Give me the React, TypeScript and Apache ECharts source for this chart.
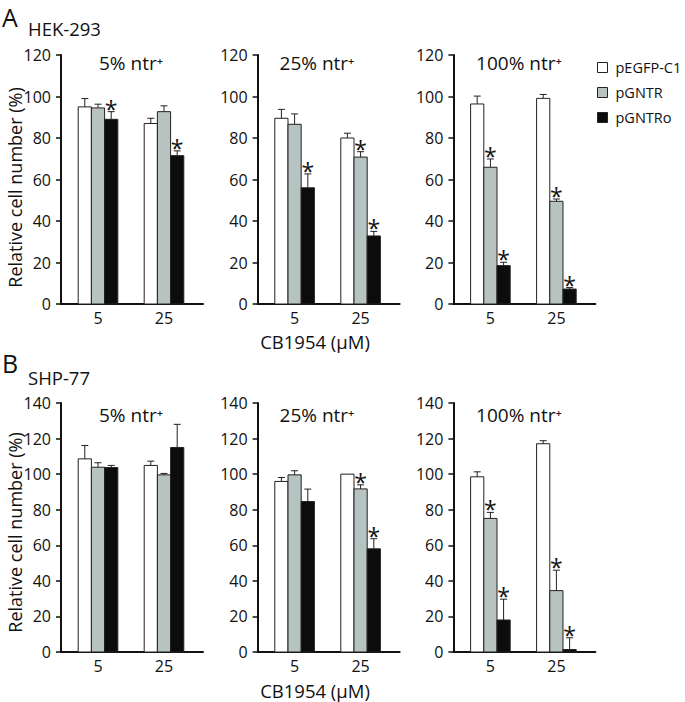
import React, { useEffect, useRef } from 'react';
import * as echarts from 'echarts';

const FONT = '"Open Sans", "Noto Sans", sans-serif';

const doses = ['5', '25'];
const plasmids = ['pEGFP-C1', 'pGNTR', 'pGNTRo'];
const fills = ['#ffffff', '#b7c3c1', '#0c0c0c'];
const panelTitles = ['5% ntr⁺', '25% ntr⁺', '100% ntr⁺'];
const rowLetters = ['A', 'B'];
const cellLines = ['HEK-293', 'SHP-77'];
const rowYMax = [120, 140];

// rows = plasmids (pEGFP-C1, pGNTR, pGNTRo), columns = CB1954 dose (5, 25 µM)
const hek5Means = [[95, 87], [94.5, 92.7], [89, 71.5]];
const hek5Err = [[4, 2.5], [1.8, 2.8], [3.7, 2.3]];
const hek5Sig = [[0, 0], [0, 0], [1, 1]];

const hek25Means = [[89.5, 80], [86.6, 70.8], [56, 32.8]];
const hek25Err = [[4.3, 2.3], [5, 2.6], [6.7, 2.2]];
const hek25Sig = [[0, 0], [0, 1], [1, 1]];

const hek100Means = [[96.4, 99.1], [65.9, 49.5], [18.5, 7.2]];
const hek100Err = [[3.8, 1.9], [4, 1.1], [1.6, 0.7]];
const hek100Sig = [[0, 0], [1, 1], [1, 1]];

const shp5Means = [[108.6, 104.9], [103.9, 99.6], [103.7, 115]];
const shp5Err = [[7.5, 2.4], [2.5, 0.8], [1.2, 13]];
const shp5Sig = [[0, 0], [0, 0], [0, 0]];

const shp25Means = [[95.9, 100], [99.6, 91.7], [84.6, 58]];
const shp25Err = [[2.2, 0], [2.3, 2.3], [7, 5.7]];
const shp25Sig = [[0, 0], [0, 1], [0, 1]];

const shp100Means = [[98.5, 117.1], [75.1, 34.5], [18, 1.4]];
const shp100Err = [[2.8, 1.7], [3.4, 11.5], [11.7, 6.6]];
const shp100Sig = [[0, 0], [1, 1], [1, 1]];

const panels = [
  { row: 0, col: 0, means: hek5Means, err: hek5Err, sig: hek5Sig },
  { row: 0, col: 1, means: hek25Means, err: hek25Err, sig: hek25Sig },
  { row: 0, col: 2, means: hek100Means, err: hek100Err, sig: hek100Sig },
  { row: 1, col: 0, means: shp5Means, err: shp5Err, sig: shp5Sig },
  { row: 1, col: 1, means: shp25Means, err: shp25Err, sig: shp25Sig },
  { row: 1, col: 2, means: shp100Means, err: shp100Err, sig: shp100Sig },
];

// layout
const colLeft = [61, 257.6, 453.4];
const rowTop = [55, 403];
const gridW = 142;
const gridH = 249;
const unitPx = 66;
const firstCenterPx = 37;
const titleX = [131, 317, 519];
const titleY = [62.5, 415];
const rowLabelY = [16.5, 363];
const cellLineY = [28, 377.5];
const yNameY = [187.5, 532.5];
const xNameY = [341, 690];

function buildOption() {
  const grid = panels.map((p) => ({
    left: colLeft[p.col],
    top: rowTop[p.row],
    width: gridW,
    height: gridH,
  }));
  const xAxis = panels.map((p, i) => ({
    gridIndex: i,
    type: 'value',
    min: -firstCenterPx / unitPx,
    max: (gridW - firstCenterPx) / unitPx,
    axisLine: { show: true, onZero: false, lineStyle: { color: '#111', width: 2 } },
    axisTick: { show: false },
    splitLine: { show: false },
    axisLabel: {
      customValues: [0, 1],
      formatter: (v: number) => doses[Math.round(v)] ?? '',
      fontSize: 16,
      lineHeight: 16,
      color: '#111',
      fontFamily: FONT,
      margin: 6,
    },
  }));
  const yAxis = panels.map((p, i) => ({
    gridIndex: i,
    type: 'value',
    min: 0,
    max: rowYMax[p.row],
    interval: 20,
    axisLine: { show: true, onZero: false, lineStyle: { color: '#111', width: 2 } },
    axisTick: { show: true, length: 5, lineStyle: { color: '#111', width: 1.5 } },
    splitLine: { show: false },
    axisLabel: { fontSize: 16, color: '#111', fontFamily: FONT, margin: 10 },
  }));

  const series: any[] = [];
  panels.forEach((p, i) => {
    plasmids.forEach((name, s) => {
      series.push({
        type: 'custom',
        name,
        xAxisIndex: i,
        yAxisIndex: i,
        clip: false,
        itemStyle: { color: fills[s], borderColor: '#222', borderWidth: 1 },
        encode: { x: 0, y: [1, 2] },
        data: doses.map((_, g) => [g, p.means[s][g], p.means[s][g] + p.err[s][g], p.sig[s][g]]),
        renderItem: (params: any, api: any) => {
          const g = api.value(0);
          const v = api.value(1);
          const up = api.value(2);
          const sig = api.value(3);
          const unit = api.size([1, 0])[0];
          const bw = unit * 0.2;
          const base = api.coord([g, 0]);
          const cx = base[0] + (s - 1) * bw;
          const top = api.coord([g, v])[1];
          const et = api.coord([g, up])[1];
          const children: any[] = [
            {
              type: 'rect',
              shape: { x: cx - bw / 2, y: top, width: bw, height: base[1] - top },
              style: { fill: fills[s], stroke: '#222', lineWidth: 1 },
            },
          ];
          if (up > v + 0.05) {
            children.push(
              { type: 'line', shape: { x1: cx, y1: top, x2: cx, y2: et }, style: { stroke: '#222', lineWidth: 1 } },
              { type: 'line', shape: { x1: cx - 3.5, y1: et, x2: cx + 3.5, y2: et }, style: { stroke: '#222', lineWidth: 1 } }
            );
          }
          if (sig) {
            children.push({
              type: 'text',
              x: cx,
              y: et - 3,
              style: {
                text: '*',
                fill: '#111',
                fontSize: 23,
                fontFamily: FONT,
                align: 'center',
                verticalAlign: 'middle',
              },
            });
          }
          return { type: 'group', children };
        },
      });
    });
  });

  const graphic: any[] = [];
  [0, 1].forEach((r) => {
    graphic.push({
      type: 'text',
      x: 2,
      y: rowLabelY[r],
      style: { text: rowLetters[r], fontSize: 25, lineHeight: 25, fontFamily: FONT, fill: '#111', align: 'left', verticalAlign: 'middle' },
    });
    graphic.push({
      type: 'text',
      x: 28,
      y: cellLineY[r],
      style: { text: cellLines[r], fontSize: 18.5, fontFamily: FONT, fill: '#111', align: 'left', verticalAlign: 'middle' },
    });
    graphic.push({
      type: 'text',
      x: 15,
      y: yNameY[r],
      rotation: Math.PI / 2,
      style: {
        text: 'Relative cell number (%)',
        fontSize: 18,
        fontFamily: FONT,
        fill: '#111',
        align: 'center',
        verticalAlign: 'middle',
      },
    });
    graphic.push({
      type: 'text',
      x: 315,
      y: xNameY[r],
      style: { text: 'CB1954 (µM)', fontSize: 18.5, lineHeight: 19, fontFamily: FONT, fill: '#111', align: 'center', verticalAlign: 'middle' },
    });
    [0, 1, 2].forEach((c) => {
      graphic.push({
        type: 'text',
        x: titleX[c],
        y: titleY[r],
        style: { text: panelTitles[c], fontSize: 19, fontFamily: FONT, fill: '#111', align: 'center', verticalAlign: 'middle' },
      });
    });
  });

  return {
    animation: false,
    backgroundColor: '#ffffff',
    grid,
    xAxis,
    yAxis,
    series,
    graphic,
    legend: {
      orient: 'vertical',
      left: 597,
      top: 60,
      padding: 0,
      itemWidth: 10,
      itemHeight: 10,
      itemGap: 10,
      icon: 'rect',
      selectedMode: false,
      textStyle: { fontSize: 14.5, color: '#111', fontFamily: FONT, padding: [0, 0, 0, 3] },
      data: plasmids.map((name, s) => ({
        name,
        itemStyle: { color: fills[s], borderColor: '#222', borderWidth: 1 },
      })),
    },
  };
}

export default function App() {
  const ref = useRef<HTMLDivElement>(null);
  useEffect(() => {
    if (!ref.current) return;
    const chart = echarts.init(ref.current, undefined, { renderer: 'svg' });
    chart.setOption(buildOption() as any);
    return () => chart.dispose();
  }, []);
  return (
    <div
      ref={ref}
      style={{ position: 'absolute', left: 0, top: 0, width: 685, height: 702, background: '#fff' }}
    />
  );
}
